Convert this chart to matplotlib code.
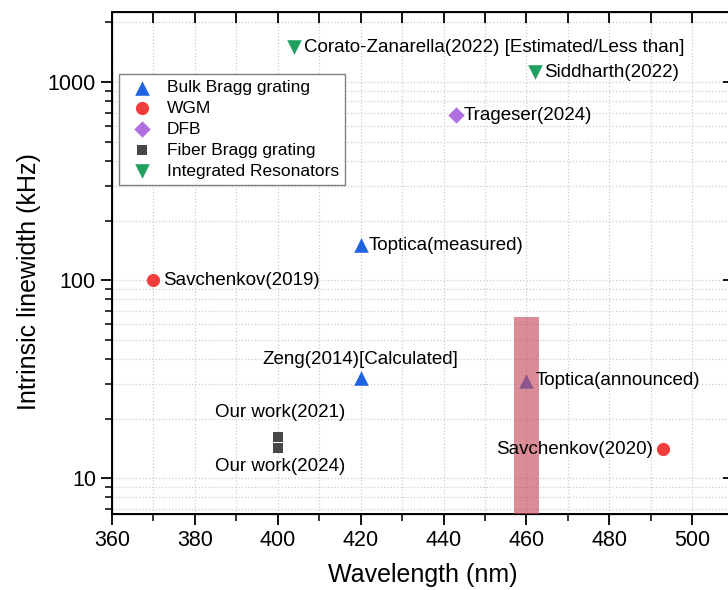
import numpy as np
import matplotlib.pyplot as plt
from matplotlib.ticker import MultipleLocator, LogLocator, NullFormatter, FixedLocator

plt.rcParams['font.family'] = ['Liberation Sans', 'DejaVu Sans']

# wavelength (nm), linewidth (kHz), label per source
bulk_x = [420, 420, 460]
bulk_y = [150, 32, 31]
bulk_labels = ['Toptica(measured)', 'Zeng(2014)[Calculated]', 'Toptica(announced)']

wgm_x = [370, 493]
wgm_y = [100, 14]
wgm_labels = ['Savchenkov(2019)', 'Savchenkov(2020)']

dfb_x = [443]
dfb_y = [680]
dfb_labels = ['Trageser(2024)']

fbg_x = [400, 400]
fbg_y = [16.1, 14.2]
fbg_labels = ['Our work(2021)', 'Our work(2024)']

ir_x = [404, 462]
ir_y = [1500, 1120]
ir_labels = ['Corato-Zanarella(2022) [Estimated/Less than]', 'Siddharth(2022)']

# shaded band around 460 nm
band_x = [457, 463]
band_top = 65

xlim = (360, 510)
ylim = (6.6, 2260)

fig = plt.figure(figsize=(7.28, 5.90), dpi=100)
ax = fig.add_axes([0.1538, 0.1288, 0.854, 0.851])

ax.scatter(bulk_x, bulk_y, marker='^', s=110, color='#1f63e0', label='Bulk Bragg grating', zorder=3, linewidths=0)
ax.scatter(wgm_x, wgm_y, marker='o', s=90, color='#f23d3d', label='WGM', zorder=3, linewidths=0)
ax.scatter(dfb_x, dfb_y, marker='D', s=70, color='#b070e0', label='DFB', zorder=3, linewidths=0)
ax.scatter(fbg_x, fbg_y, marker='s', s=55, color='#474747', label='Fiber Bragg grating', zorder=3, linewidths=0)
ax.scatter(ir_x, ir_y, marker='v', s=110, color='#20a060', label='Integrated Resonators', zorder=3, linewidths=0)

ax.fill_between(band_x, 1, band_top, color='#c8505f', alpha=0.65, linewidth=0, zorder=4)

fs = 13.5
def note(x, y, text, dx, dy, ha='left', va='center'):
    ax.annotate(text, (x, y), xytext=(dx, dy), textcoords='offset pixels',
                ha=ha, va=va, fontsize=fs, zorder=5)

note(bulk_x[0], bulk_y[0], bulk_labels[0], 8, 0)
note(bulk_x[1], bulk_y[1], bulk_labels[1], 0, 19, ha='center')
note(bulk_x[2], bulk_y[2], bulk_labels[2], 9, 0)
note(wgm_x[0], wgm_y[0], wgm_labels[0], 10, 0)
note(wgm_x[1], wgm_y[1], wgm_labels[1], -10, 0, ha='right')
note(dfb_x[0], dfb_y[0], dfb_labels[0], 8, 0)
note(fbg_x[0], fbg_y[0], fbg_labels[0], 2, 25, ha='center')
note(fbg_x[1], fbg_y[1], fbg_labels[1], 2, -18, ha='center')
note(ir_x[0], ir_y[0], ir_labels[0], 10, 0)
note(ir_x[1], ir_y[1], ir_labels[1], 9, 0)

ax.set_yscale('log')
ax.set_xlim(*xlim)
ax.set_ylim(*ylim)

ax.xaxis.set_major_locator(MultipleLocator(20))
ax.xaxis.set_minor_locator(MultipleLocator(10))
ax.yaxis.set_major_locator(FixedLocator([10, 100, 1000]))
ax.yaxis.set_major_formatter(plt.FuncFormatter(lambda v, p: '%d' % v))
ax.yaxis.set_minor_locator(LogLocator(base=10, subs=np.arange(2, 10)))
ax.yaxis.set_minor_formatter(NullFormatter())

ax.tick_params(axis='both', which='major', labelsize=15.5, length=8, width=1.3, direction='out')
ax.tick_params(axis='both', which='minor', length=5, width=1.1, direction='out')
for side in ['top', 'bottom', 'left', 'right']:
    ax.spines[side].set_linewidth(1.4)

# top and right ticks point inward
top = ax.twiny()
top.set_xlim(*xlim)
top.xaxis.set_major_locator(MultipleLocator(10))
top.tick_params(axis='x', which='major', direction='in', length=8, width=1.3, labeltop=False)
right = ax.twinx()
right.set_yscale('log')
right.set_ylim(*ylim)
right.yaxis.set_major_locator(FixedLocator([10, 100, 1000]))
right.yaxis.set_minor_locator(FixedLocator([]))
right.tick_params(axis='y', which='major', direction='in', length=8, width=1.3, labelright=False)

ax.grid(True, which='both', color='#cccccc', linestyle=':', linewidth=0.9)
ax.set_axisbelow(True)

ax.set_xlabel('Wavelength (nm)', fontsize=18, labelpad=9)
ax.set_ylabel('Intrinsic linewidth (kHz)', fontsize=18)
ax.yaxis.set_label_coords(-0.114, 0.462)

leg = ax.legend(loc='upper left', bbox_to_anchor=(0.0113, 0.8765), borderaxespad=0,
                fontsize=12.5, frameon=True, fancybox=False, edgecolor='#808080', framealpha=1,
                handlelength=2.0, handletextpad=0.4, borderpad=0.35, labelspacing=0.33,
                scatterpoints=1)
leg.get_frame().set_linewidth(1.0)
leg.set_zorder(6)

fig.savefig('out.png', dpi=100)
